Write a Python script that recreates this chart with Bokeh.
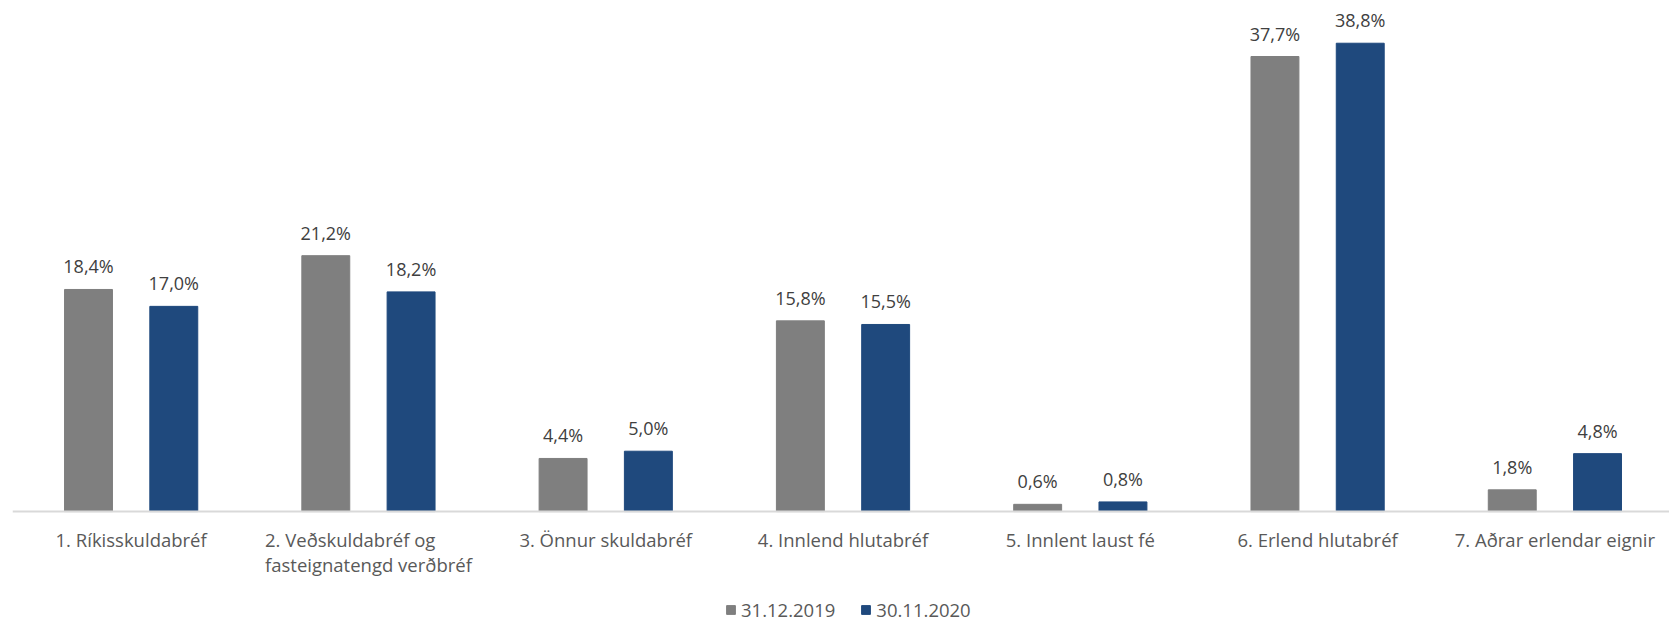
from bokeh.plotting import figure
from bokeh.models import (ColumnDataSource, Range1d, LabelSet, Span,
                          Legend, LegendItem)
from bokeh.core.properties import value
from bokeh.transform import dodge
from bokeh.embed import file_html
from bokeh.resources import INLINE

categories = [
    "1. Ríkisskuldabréf",
    "2. Veðskuldabréf og\nfasteignatengd verðbréf",
    "3. Önnur skuldabréf",
    "4. Innlend hlutabréf",
    "5. Innlent laust fé",
    "6. Erlend hlutabréf",
    "7. Aðrar erlendar eignir",
]
series_names = ["31.12.2019", "30.11.2020"]
values_2019 = [18.4, 21.2, 4.4, 15.8, 0.6, 37.7, 1.8]
values_2020 = [17.0, 18.2, 5.0, 15.5, 0.8, 38.8, 4.8]

GRAY = "#7f7f7f"
BLUE = "#1f497d"
FONT = "Open Sans"

pos = [i + 0.5 for i in range(len(categories))]


def fmt(v):
    return f"{v:.1f}".replace(".", ",") + "%"


source = ColumnDataSource(dict(
    pos=pos,
    zero=[0] * len(pos),
    cat=categories,
    v2019=values_2019,
    v2020=values_2020,
    l2019=[fmt(v) for v in values_2019],
    l2020=[fmt(v) for v in values_2020],
))

p = figure(width=1669, height=622, output_backend="svg", toolbar_location=None,
           x_range=Range1d(0, 6.983), y_range=Range1d(-9.19, 42.34),
           x_axis_location=None, y_axis_location=None,
           min_border_left=12, min_border_right=0,
           min_border_top=0, min_border_bottom=0)
p.outline_line_color = None
p.xgrid.visible = False
p.ygrid.visible = False
p.background_fill_color = "white"
p.border_fill_color = "white"

off = 0.1797
bw = 0.202
r1 = p.vbar(x=dodge("pos", -off, range=p.x_range), top="v2019", bottom=0,
            width=bw, source=source, color=GRAY)
r2 = p.vbar(x=dodge("pos", off, range=p.x_range), top="v2020", bottom=0,
            width=bw, source=source, color=BLUE)

# baseline (category axis line)
p.add_layout(Span(location=0, dimension="width", line_color="#d9d9d9",
                  line_width=2))

# value labels
for col, lab, o in (("v2019", "l2019", -off), ("v2020", "l2020", off)):
    p.add_layout(LabelSet(x=dodge("pos", o, range=p.x_range), y=col, text=lab,
                          source=source, text_align="center",
                          text_baseline="middle", y_offset=23,
                          text_font=value(FONT), text_font_size=value("18px"),
                          text_color="#404040"))

# category labels
p.add_layout(LabelSet(x="pos", y="zero", text="cat", source=source,
                      text_align="center", text_baseline="top", y_offset=-15,
                      text_line_height=1.0,
                      text_font=value(FONT), text_font_size=value("18.5px"),
                      text_color="#595959"))

legend = Legend(items=[LegendItem(label=series_names[0], renderers=[r1]),
                       LegendItem(label=series_names[1], renderers=[r2])],
                orientation="horizontal", location=(713, 0),
                padding=0, margin=0, spacing=25, label_standoff=5,
                glyph_width=11, glyph_height=11, label_height=20,
                label_text_font=FONT, label_text_font_size="18.5px",
                label_text_color="#595959", border_line_color=None,
                background_fill_alpha=0)
p.add_layout(legend)

open("out.html", "w").write(file_html(p, INLINE))
